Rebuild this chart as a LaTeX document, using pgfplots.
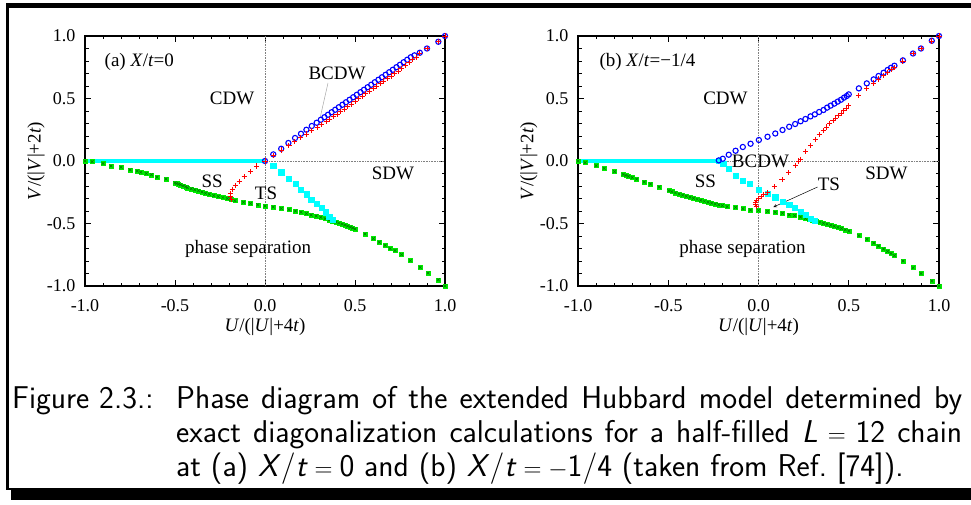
\documentclass[border=0pt]{standalone}
\usepackage{fontspec}
\setmainfont{Liberation Serif}
\usepackage{pgfplots}
\usepackage{pgfplotstable}
\pgfplotsset{compat=1.18}
\newcommand\annfont{\fontsize{19}{22}\selectfont}
\newcommand\capfont{\sffamily\fontsize{31.5}{34}\selectfont}
\definecolor{mgreen}{RGB}{0,235,0}
\definecolor{dgreen}{RGB}{0,120,0}
\definecolor{mcyan}{RGB}{0,255,255}

\pgfplotstableread{
x y
-1.0 0.0
-0.96 -0.005
-0.90 -0.02
-0.856 -0.04
-0.80 -0.05
-0.75 -0.07
-0.71 -0.08
-0.69 -0.09
-0.66 -0.10
-0.63 -0.11
-0.60 -0.13
-0.55 -0.144
-0.50 -0.174
-0.49 -0.18
-0.48 -0.185
-0.47 -0.19
-0.455 -0.198
-0.44 -0.206
-0.43 -0.214
-0.41 -0.222
-0.39 -0.23
-0.37 -0.238
-0.35 -0.248
-0.33 -0.258
-0.31 -0.266
-0.285 -0.276
-0.26 -0.284
-0.234 -0.292
-0.21 -0.30
-0.19 -0.306
-0.167 -0.317
-0.12 -0.33
-0.08 -0.34
-0.04 -0.35
0.0 -0.36
0.046 -0.368
0.09 -0.38
0.133 -0.389
0.17 -0.40
0.20 -0.41
0.23 -0.421
0.257 -0.432
0.285 -0.44
0.31 -0.45
0.334 -0.461
0.356 -0.472
0.376 -0.481
0.395 -0.489
0.411 -0.497
0.428 -0.505
0.444 -0.513
0.459 -0.521
0.474 -0.529
0.487 -0.536
0.50 -0.544
0.556 -0.584
0.602 -0.621
0.635 -0.65
0.667 -0.675
0.695 -0.70
0.722 -0.716
0.759 -0.749
0.807 -0.797
0.862 -0.851
0.906 -0.896
0.963 -0.95
1.0 -1.0
}\greenA

\pgfplotstableread{
x y
0.046 -0.04
0.09 -0.09
0.133 -0.144
0.17 -0.184
0.20 -0.227
0.23 -0.266
0.257 -0.307
0.285 -0.344
0.313 -0.376
0.337 -0.41
0.357 -0.445
0.374 -0.472
}\cyanA

\pgfplotstableread{
x y
0.0 0.0
-0.046 -0.04
-0.082 -0.085
-0.115 -0.125
-0.143 -0.163
-0.165 -0.195
-0.182 -0.227
-0.19 -0.259
-0.19 -0.285
-0.185 -0.31
0.046 0.045
0.09 0.088
0.133 0.122
0.165 0.157
0.198 0.19
0.23 0.216
0.26 0.245
0.29 0.27
0.315 0.29
0.34 0.315
0.36 0.335
0.38 0.355
0.40 0.375
0.42 0.395
0.44 0.415
0.46 0.435
0.48 0.455
0.50 0.475
0.52 0.497
0.54 0.517
0.56 0.538
0.58 0.558
0.60 0.58
0.62 0.60
0.64 0.62
0.66 0.64
0.68 0.66
0.70 0.68
0.72 0.70
0.74 0.72
0.76 0.74
0.78 0.765
0.80 0.785
0.82 0.81
0.84 0.83
0.86 0.86
0.90 0.90
0.963 0.954
1.0 1.0
}\redA

\pgfplotstableread{
x y
0.0 0.0
0.046 0.053
0.09 0.098
0.13 0.144
0.167 0.184
0.20 0.218
0.23 0.25
0.26 0.28
0.287 0.306
0.31 0.33
0.33 0.35
0.35 0.37
0.37 0.39
0.39 0.41
0.41 0.43
0.43 0.45
0.45 0.47
0.47 0.49
0.49 0.51
0.51 0.53
0.53 0.55
0.55 0.57
0.57 0.59
0.59 0.61
0.61 0.63
0.63 0.65
0.65 0.67
0.67 0.69
0.69 0.71
0.71 0.73
0.73 0.75
0.75 0.77
0.77 0.79
0.79 0.81
0.81 0.83
0.83 0.845
0.86 0.866
0.90 0.90
0.963 0.954
1.0 1.0
}\blueA

\pgfplotstableread{
x y
-1.0 0.0
-0.96 -0.013
-0.90 -0.037
-0.855 -0.059
-0.797 -0.085
-0.75 -0.107
-0.735 -0.115
-0.72 -0.122
-0.70 -0.132
-0.675 -0.145
-0.633 -0.168
-0.598 -0.184
-0.55 -0.208
-0.497 -0.237
-0.48 -0.245
-0.46 -0.255
-0.44 -0.265
-0.42 -0.273
-0.40 -0.282
-0.38 -0.29
-0.36 -0.298
-0.34 -0.306
-0.32 -0.314
-0.30 -0.322
-0.28 -0.33
-0.26 -0.337
-0.24 -0.344
-0.22 -0.35
-0.20 -0.357
-0.174 -0.365
-0.127 -0.371
-0.087 -0.381
-0.044 -0.392
0.0 -0.395
0.05 -0.403
0.093 -0.41
0.133 -0.418
0.17 -0.43
0.20 -0.437
0.233 -0.448
0.26 -0.459
0.28 -0.466
0.30 -0.474
0.32 -0.482
0.34 -0.49
0.36 -0.498
0.38 -0.506
0.40 -0.514
0.42 -0.522
0.44 -0.531
0.46 -0.54
0.48 -0.55
0.50 -0.56
0.556 -0.597
0.60 -0.627
0.638 -0.656
0.665 -0.68
0.693 -0.704
0.715 -0.723
0.734 -0.74
0.753 -0.757
0.80 -0.80
0.856 -0.853
0.90 -0.90
0.96 -0.96
1.0 -1.0
}\greenB

\pgfplotstableread{
x y
-0.22 0.0
-0.196 -0.024
-0.165 -0.064
-0.126 -0.115
-0.087 -0.155
-0.048 -0.184
0.002 -0.227
0.05 -0.259
0.093 -0.29
0.133 -0.323
0.17 -0.347
0.20 -0.376
0.233 -0.403
0.26 -0.432
0.288 -0.459
0.31 -0.477
}\cyanB

\pgfplotstableread{
x y
-0.011 -0.365
-0.016 -0.35
-0.015 -0.335
-0.01 -0.318
0.0 -0.30
0.015 -0.285
0.03 -0.27
0.05 -0.255
0.09 -0.205
0.13 -0.15
0.167 -0.093
0.205 -0.037
0.222 0.0
0.232 0.015
0.26 0.078
0.288 0.125
0.314 0.173
0.336 0.21
0.358 0.242
0.377 0.272
0.395 0.301
0.413 0.323
0.428 0.344
0.443 0.363
0.458 0.381
0.473 0.403
0.488 0.421
0.50 0.445
0.556 0.523
0.60 0.581
0.638 0.624
0.665 0.656
0.693 0.685
0.715 0.71
0.734 0.73
0.753 0.75
0.80 0.80
0.856 0.86
0.90 0.90
0.96 0.96
1.0 1.0
}\redB

\pgfplotstableread{
x y
-0.22 0.005
-0.198 0.018
-0.165 0.05
-0.127 0.082
-0.087 0.112
-0.044 0.138
0.002 0.168
0.05 0.194
0.093 0.22
0.133 0.248
0.17 0.274
0.203 0.296
0.233 0.318
0.26 0.336
0.288 0.357
0.312 0.373
0.336 0.392
0.36 0.408
0.38 0.427
0.40 0.443
0.42 0.459
0.439 0.475
0.457 0.49
0.474 0.507
0.489 0.52
0.50 0.533
0.556 0.581
0.60 0.621
0.638 0.653
0.665 0.68
0.693 0.706
0.715 0.728
0.734 0.746
0.753 0.762
0.80 0.805
0.856 0.86
0.90 0.90
0.96 0.962
1.0 1.0
}\blueB

\pgfplotsset{
  myax/.style={
    scale only axis, anchor=south west,
    width=360pt, height=250pt,
    xmin=-1, xmax=1, ymin=-1, ymax=1,
    xtick={-1,-0.5,0,0.5,1}, ytick={-1,-0.5,0,0.5,1},
    minor tick num=4,
    tick align=inside,
    major tick length=6pt, minor tick length=3.5pt,
    axis line style={line width=1.1pt},
    every tick/.style={black, line width=0.7pt},
    tick label style={font=\fontsize{18}{20}\selectfont},
    xticklabel style={yshift=-10pt},
    yticklabel style={xshift=-6pt},
    /pgf/number format/fixed,
    /pgf/number format/fixed zerofill,
    /pgf/number format/precision=1,
    /pgf/number format/assume math mode=true,
    label style={font=\fontsize{19}{22}\selectfont},
    xlabel={\textit{U}/(|\textit{U}|+4\textit{t})},
    ylabel={\textit{V}/(|\textit{V}|+2\textit{t})},
    xlabel style={at={(axis description cs:0.5,-0.165)}, anchor=center},
    ylabel style={at={(axis description cs:-0.136,0.5)}, anchor=center},
    clip=false,
  },
  gsq/.style={only marks, mark=square*, mark size=2pt, mark options={fill=mgreen, draw=mgreen}},
  gx/.style={only marks, mark=x, mark size=2pt, mark options={draw=dgreen, line width=0.5pt}},
  csq/.style={only marks, mark=square*, mark size=2.6pt, mark options={fill=mcyan, draw=mcyan}},
  rpl/.style={only marks, mark=+, mark size=2.6pt, mark options={draw=red, line width=0.9pt}},
  bci/.style={only marks, mark=o, mark size=2.6pt, mark options={draw=blue, line width=1.1pt}},
}

\begin{document}
\begin{tikzpicture}
\useasboundingbox (0pt,0pt) rectangle (971pt,504pt);
% frame
\fill[black] (6pt,496pt) rectangle (971pt,501pt);
\fill[black] (6pt,14pt) rectangle (8.5pt,501pt);
\fill[black] (6pt,14pt) rectangle (971pt,16pt);
\fill[black] (11pt,4pt) rectangle (971pt,15pt);

% panel (a)
\begin{axis}[myax, at={(85pt,218pt)}]
\draw[gray, densely dotted, line width=0.6pt] (axis cs:0,-1) -- (axis cs:0,1);
\draw[gray, densely dotted, line width=0.6pt] (axis cs:-1,0) -- (axis cs:1,0);
\addplot[mcyan, line width=4.5pt] coordinates {(-1,0) (0,0)};
\addplot[gsq] table {\greenA};
\addplot[gx] table {\greenA};
\addplot[csq] table {\cyanA};
\addplot[bci] table {\blueA};
\addplot[rpl] table {\redA};
\node[anchor=west, font=\annfont] at (axis cs:-0.91,0.792) {(a) \textit{X}/\textit{t}=0};
\node[font=\annfont] at (axis cs:-0.183,0.504) {CDW};
\node[font=\annfont] at (axis cs:0.40,0.704) {BCDW};
\draw[gray!70, line width=0.5pt] (axis cs:0.35,0.624) -- (axis cs:0.306,0.344);
\node[font=\annfont] at (axis cs:-0.294,-0.16) {SS};
\node[font=\annfont] at (axis cs:0.006,-0.256) {TS};
\node[font=\annfont] at (axis cs:0.711,-0.096) {SDW};
\node[font=\annfont] at (axis cs:-0.094,-0.704) {phase separation};
\end{axis}

% panel (b)
\begin{axis}[myax, at={(578pt,218pt)}, width=361pt]
\draw[gray, densely dotted, line width=0.6pt] (axis cs:0,-1) -- (axis cs:0,1);
\draw[gray, densely dotted, line width=0.6pt] (axis cs:-1,0) -- (axis cs:1,0);
\addplot[mcyan, line width=4.5pt] coordinates {(-1,0) (-0.22,0)};
\addplot[gsq] table {\greenB};
\addplot[gx] table {\greenB};
\addplot[csq] table {\cyanB};
\addplot[bci] table {\blueB};
\addplot[rpl] table {\redB};
\node[anchor=west, font=\annfont] at (axis cs:-0.90,0.792) {(b) \textit{X}/\textit{t}=−1/4};
\node[font=\annfont] at (axis cs:-0.183,0.504) {CDW};
\node[font=\annfont] at (axis cs:0.011,-0.005) {BCDW};
\node[font=\annfont] at (axis cs:-0.294,-0.16) {SS};
\node[font=\annfont] at (axis cs:0.39,-0.19) {TS};
\draw[-stealth, line width=0.5pt] (axis cs:0.327,-0.208) -- (axis cs:0.083,-0.368);
\node[font=\annfont] at (axis cs:0.709,-0.096) {SDW};
\node[font=\annfont] at (axis cs:-0.089,-0.704) {phase separation};
\end{axis}

% caption
\node[anchor=base west, inner sep=0pt] at (12pt,96pt) {\capfont Figure 2.3.:};
\node[anchor=base west, inner sep=0pt] at (176pt,96pt) {\parbox[t]{786pt}{\capfont
Phase diagram of the extended Hubbard model determined by\linebreak
exact diagonalization calculations for a half-filled \textit{L}${}={}$12 chain\linebreak
at (a) \textit{X}/\textit{t}${}={}$0 and (b) \textit{X}/\textit{t}${}={}$$-$1/4 (taken from Ref.~[74]).}};
\end{tikzpicture}
\end{document}
